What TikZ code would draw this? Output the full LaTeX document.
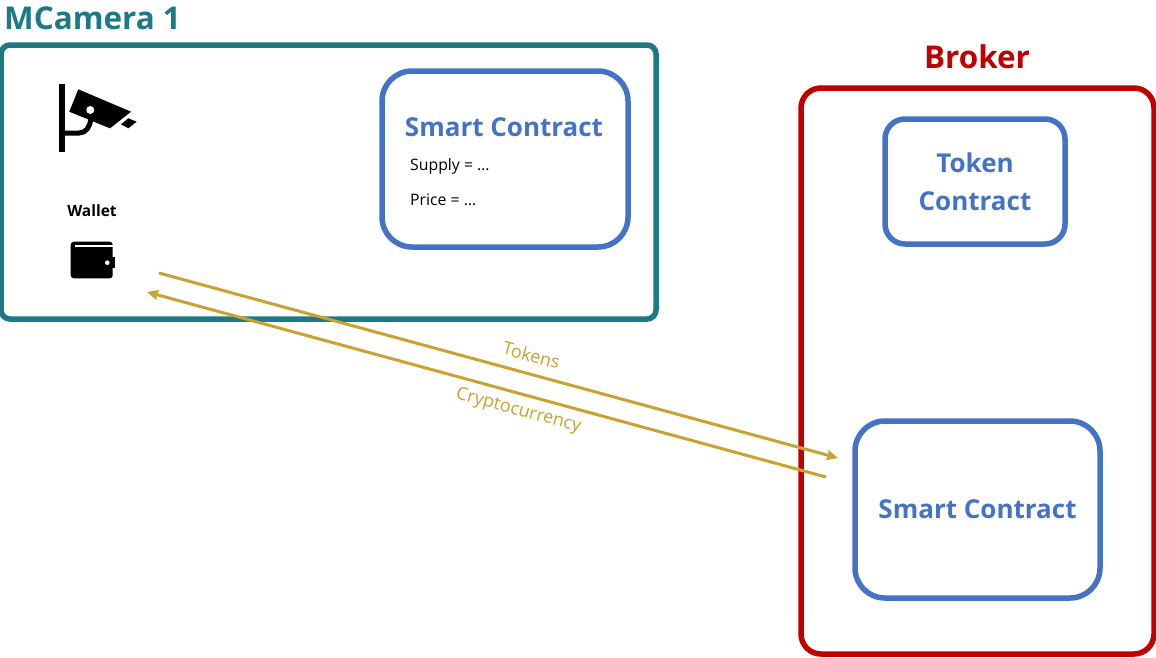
\documentclass[tikz,border=0pt]{standalone}
\usepackage{fontspec}
\setmainfont{Open Sans}
\usepackage{xcolor}
\usetikzlibrary{arrows.meta}
\usetikzlibrary{positioning}
\definecolor{camteal}{HTML}{1C7A85}
\definecolor{brokerred}{HTML}{C00000}
\definecolor{contractblue}{HTML}{4472C4}
\definecolor{flowgold}{HTML}{C9A22F}

\begin{document}
\begin{tikzpicture}[x=1pt, y=-1pt,
        outerbox/.style={
            draw,
            line width=5.5pt,
            inner sep=0pt,
            outer sep=0pt},
        contract/.style={
            draw=contractblue,
            line width=5.5pt,
            inner sep=0pt,
            outer sep=0pt,
            text=contractblue,
            align=center,
            font=\fontsize{26}{38}\selectfont\bfseries},
        title/.style={
            font=\fontsize{31.4}{36}\selectfont\bfseries,
            inner sep=0pt},
        small/.style={
            font=\fontsize{15.8}{18}\selectfont,
            inner sep=0pt},
        flow/.style={
            draw=flowgold,
            line width=3pt,
            -{Stealth[length=11pt,width=10pt,inset=1pt]}},
        flowlabel/.style={
            text=flowgold,
            font=\fontsize{18}{20}\selectfont,
            inner sep=0pt,
            rotate=-15.2},
        >={Stealth}]

        \useasboundingbox (0,0) rectangle (1156,657);

        % MCamera side
        \node[outerbox, draw=camteal, rounded corners=9pt, minimum width=655pt, minimum height=274pt](mcamera) at (328.5,182) {};
        \node[title, text=camteal, anchor=west](mcameratitle) at (4,18) {MCamera 1};
        \node[contract, rounded corners=30pt, minimum width=246pt, minimum height=176pt](minersc) at (505,159) {};
        \node[contract, draw=none, fill=none](minerscname) at (504,127.5) {Smart Contract};
        \node[small, anchor=west](supply) at (410,166) {Supply = …};
        \node[small, anchor=west](price) at (410,199.5) {Price = …};
        \node[small, font=\fontsize{15.5}{18}\selectfont\bfseries](wallet) at (92,211) {Wallet};

        % camera icon
        \fill (58.7,84) rectangle (65,151.7);
        \fill (78.3,89.3) -- (131,111.7) -- (110,128.3) -- (69.3,111.7) -- cycle;
        \fill (128.3,118.3) -- (136.7,121.7) -- (128.3,128.3) -- (121,124.3) -- cycle;
        \draw[line width=5pt] (65,133) -- (79,133) .. controls (86,133) and (90,127) .. (90.7,119);
        \fill[white] (90.3,110) circle (4);

        % wallet icon
        \fill[rounded corners=3pt] (70.7,241.7) rectangle (112.7,278.3);
        \fill (112,256.7) rectangle (115,268);
        \draw[white, line width=1.4pt] (75,246) -- (113.5,246);
        \fill[white] (107.3,262.7) circle (2.3);

        % Broker side
        \node[outerbox, draw=brokerred, rounded corners=20pt, minimum width=353pt, minimum height=566pt](broker) at (977.5,371) {};
        \node[title, text=brokerred](brokertitle) at (977,56.5) {Broker};
        \node[contract, rounded corners=20pt, minimum width=180pt, minimum height=125pt](token) at (975,181.5) {Token\\Contract};
        \node[contract, rounded corners=30pt, minimum width=245pt, minimum height=177pt](brokersc) at (977.5,509.5) {Smart Contract};

        % transfers
        \coordinate (tokensstart) at (159,273);
        \coordinate (tokensend) at (838,458);
        \coordinate (cryptostart) at (826,477);
        \coordinate (cryptoend) at (147,292);
        \draw[flow] (tokensstart) -- (tokensend);
        \draw[flow] (cryptostart) -- (cryptoend);
        \node[flowlabel](tokenslabel) at (531.5,355) {Tokens};
        \node[flowlabel](cryptolabel) at (518.5,411) {Cryptocurrency};
    \end{tikzpicture}
\end{document}
